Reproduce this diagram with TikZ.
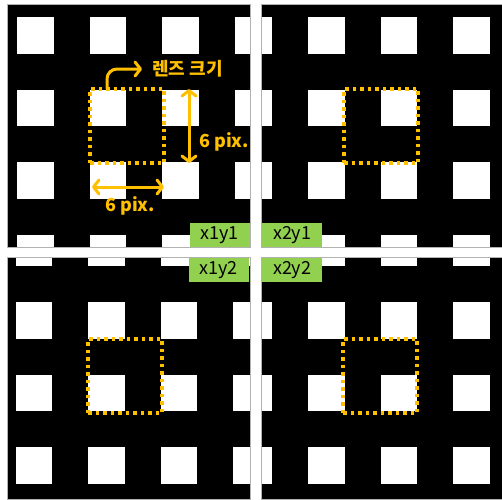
\documentclass[tikz,border=0pt]{standalone}
\usepackage{fontspec}
\setmainfont{Noto Sans CJK KR}
\usetikzlibrary{arrows.meta,positioning}

\begin{document}
\begin{tikzpicture}[x=1pt,y=-1pt,>={Straight Barb[length=5.5pt,width=14pt,round]},
  every node/.style={font=\fontsize{18}{20}\selectfont},
  lensbox/.style={draw=lensgold,line width=3.5pt,dash pattern=on 3.5pt off 4pt,
    minimum size=74pt,inner sep=0pt,outer sep=0pt,anchor=north west},
  gridtag/.style={fill=taggreen,minimum width=60pt,minimum height=24pt,inner sep=0pt},
  pixlabel/.style={text=lensgold,font=\fontsize{18}{20}\selectfont\bfseries,inner sep=0pt},
  arrowline/.style={draw=lensgold,line width=3pt}]
  \definecolor{lensgold}{RGB}{255,192,0}
  \definecolor{taggreen}{RGB}{146,208,80}
  \useasboundingbox (0,0) rectangle (502,499);
  \fill[white] (0,0) rectangle (502,499);
  % four shifted views of the same pattern
  \foreach \xa/\ya/\xb/\yb/\gx/\gy in {7/4/250/247/17/17,261/4/502/247/235.5/17,
      7/257/250/499/15.5/229.5,261/257/502/499/235.5/229.5}{
    \begin{scope}
      \clip (\xa,\ya) rectangle (\xb,\yb);
      \fill (\xa,\ya) rectangle (\xb,\yb);
      \foreach \i in {0,...,3}
        \foreach \j in {0,...,3}
          \fill[white] (\gx+72.5*\i,\gy+72.5*\j) rectangle ++(36.5,36.5);
    \end{scope}
    \draw[gray!60,line width=0.5pt] (\xa,\ya) rectangle (\xb,\yb);
  }
  \node[lensbox] (lens11) at (90,89) {};
  \node[lensbox] (lens21) at (344,89) {};
  \node[lensbox] (lens12) at (88,339) {};
  \node[lensbox] (lens22) at (343,339) {};
  \node[gridtag,anchor=south east] (x1y1) at (250,247) {x1y1};
  \node[gridtag,anchor=south west] (x2y1) at (262,247) {x2y1};
  \node[gridtag,anchor=north east] (x1y2) at (249,258) {x1y2};
  \node[gridtag,anchor=north west] (x2y2) at (262,258) {x2y2};
  % lens size
  \node[pixlabel,anchor=west] (lensname) at (152,69) {렌즈 크기};
  \draw[arrowline,->,rounded corners=10pt] ([xshift=17pt]lens11.north west)
    |- ([xshift=-10pt]lensname.west);
  \draw[arrowline,<->] ([xshift=25pt]lens11.north east) -- ([xshift=25pt]lens11.south east);
  \node[pixlabel,anchor=west] (vpix) at (199,142) {6 pix.};
  \draw[arrowline,<->] ([shift={(2pt,-24pt)}]lens11.south west) -- ([yshift=-24pt]lens11.south east);
  \node[pixlabel,anchor=north] (hpix) at (130,196) {6 pix.};
\end{tikzpicture}
\end{document}
